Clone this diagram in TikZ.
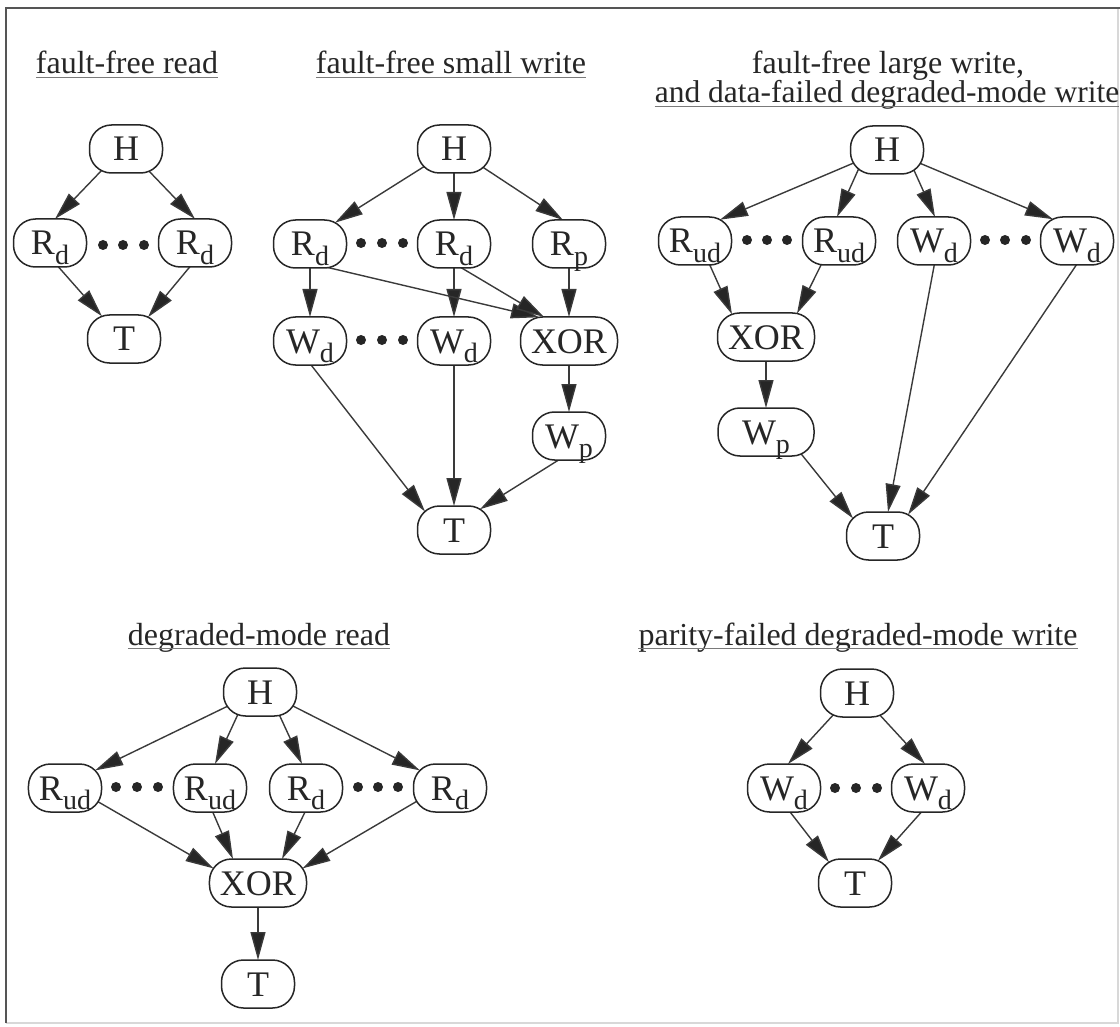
\documentclass[tikz,border=0pt]{standalone}
\usepackage{fontspec}
\setmainfont{Liberation Serif}
\usetikzlibrary{arrows.meta,calc}
\pgfdeclarelayer{edges}
\pgfsetlayers{edges,main}
\definecolor{ink}{HTML}{262626}
\definecolor{wire}{HTML}{3A3A3A}
\definecolor{rulegray}{HTML}{7A7A7A}
\definecolor{framedark}{HTML}{555555}
\definecolor{framelight}{HTML}{D8D8D8}
% lowered subscript used in the node labels
\newcommand\sbs[1]{\raisebox{-9.5pt}{\fontsize{28}{28}\selectfont #1}}

\begin{document}
\begin{tikzpicture}[x=1pt,y=-1pt,
  box/.style={draw=ink, line width=1.5pt, fill=white, rounded corners=22pt,
    minimum width=73pt, minimum height=48pt, inner xsep=10.5pt, inner ysep=2pt,
    text height=24pt, text depth=0pt, text=ink, font=\fontsize{36}{36}\selectfont},
  wide/.style={box, minimum width=96pt},
  ttl/.style={inner sep=0pt, font=\fontsize{32}{32}\selectfont, text=ink},
  uline/.style={draw=rulegray, line width=1.8pt},
  arr/.style={draw=wire, line width=1.4pt,
    -{Triangle[length=28pt,width=15pt,fill=ink]}},
  bead/.style={fill=ink}]

\useasboundingbox (0,0) rectangle (1120,1027);

% frame
\draw[framelight, line width=1.5pt] (6,1023) -- (1118,1023) -- (1118,8);
\draw[framedark, line width=1.8pt] (6,1023) -- (6,8) -- (1120,8);

% titles
\node[ttl, anchor=base] (t1) at (127,74) {fault-free read};
\node[ttl, anchor=base] (t2) at (451,74) {fault-free small write};
\node[ttl, anchor=base] (t3a) at (888,74) {fault-free large write,};
\node[ttl, anchor=base, font=\fontsize{31.5}{32}\selectfont] (t3) at (887,103)
  {and data-failed degraded-mode write};
\node[ttl, anchor=base] (t4) at (259,645) {degraded-mode read};
\node[ttl, anchor=base] (t5) at (858,645) {parity-failed degraded-mode write};
\foreach \t in {t1,t2,t3,t4,t5}
  \draw[uline] ([yshift=-3.5pt]\t.base west) -- ([yshift=-3.5pt]\t.base east);

% fault-free read
\node[box] (H1) at (126,149) {H};
\node[box] (A1) at (50,243) {R\sbs{d}};
\node[box] (B1) at (195,243) {R\sbs{d}};
\node[box] (T1) at (124,339) {T};
\foreach \x in {103,123,144} \fill[bead] (\x,245) circle[radius=5pt];

% fault-free small write
\node[box] (H2) at (454,149) {H};
\node[box] (R21) at (310,244) {R\sbs{d}};
\node[box] (R22) at (454,244) {R\sbs{d}};
\node[box] (Rp) at (569,244) {R\sbs{p}};
\node[box] (W21) at (310,341) {W\sbs{d}};
\node[box] (W22) at (454,341) {W\sbs{d}};
\node[box] (X2) at (569,341) {XOR};
\node[box] (Wp2) at (569,436) {W\sbs{p}};
\node[box] (T2) at (454,530) {T};
\foreach \x in {361,382,403} {
  \fill[bead] (\x,243) circle[radius=5pt];
  \fill[bead] (\x,340) circle[radius=5pt];
}

% fault-free large write, and data-failed degraded-mode write
\node[box] (H3) at (887,150) {H};
\node[box] (U31) at (695,241) {R\sbs{ud}};
\node[box] (U32) at (839,241) {R\sbs{ud}};
\node[box] (W31) at (934,241) {W\sbs{d}};
\node[box] (W32) at (1077,241) {W\sbs{d}};
\node[box] (X3) at (766,337) {XOR};
\node[wide] (Wp3) at (766,432) {W\sbs{p}};
\node[box] (T3) at (883,536) {T};
\foreach \x in {747,767,787} \fill[bead] (\x,240) circle[radius=5pt];
\foreach \x in {985,1005,1026} \fill[bead] (\x,240) circle[radius=5pt];

% degraded-mode read
\node[box] (H4) at (260,692) {H};
\node[box] (U41) at (65,788) {R\sbs{ud}};
\node[box] (U42) at (210,788) {R\sbs{ud}};
\node[box] (R41) at (306,788) {R\sbs{d}};
\node[box] (R42) at (450,788) {R\sbs{d}};
\node[box] (X4) at (258,883) {XOR};
\node[box] (T4) at (258,984) {T};
\foreach \x in {116,137,158} \fill[bead] (\x,787) circle[radius=5pt];
\foreach \x in {358,378,398} \fill[bead] (\x,787) circle[radius=5pt];

% parity-failed degraded-mode write
\node[box] (H5) at (857,693) {H};
\node[box] (W51) at (784,788) {W\sbs{d}};
\node[box] (W52) at (928,788) {W\sbs{d}};
\node[box] (T5) at (855,883) {T};
\foreach \x in {835,856,877} \fill[bead] (\x,788) circle[radius=5pt];

% connectors: they start inside the source box (covered by its white fill)
% and end exactly on the target outline
\begin{pgfonlayer}{edges}
% fault-free read
\draw[arr] ($(H1.center)+(-23,20)$) -- ($(A1.center)+(5,-24)$);
\draw[arr] ($(H1.center)+(21,20)$) -- ($(B1.center)+(0,-24)$);
\draw[arr] ($(A1.center)+(5,20)$) -- ($(T1.center)+(-22,-22.7)$);
\draw[arr] ($(B1.center)+(-2,20)$) -- ($(T1.center)+(24,-21.8)$);
% fault-free small write
\draw[arr] ($(H2.center)+(-29,17)$) -- ($(R21.center)+(25,-21.3)$);
\draw[arr] ($(H2.center)+(0,20)$) -- ($(R22.center)+(0,-24)$);
\draw[arr] ($(H2.center)+(27,17)$) -- ($(Rp.center)+(-6,-24)$);
\draw[arr] ($(R21.center)+(0,20)$) -- ($(W21.center)+(0,-24)$);
\draw[arr] ($(R22.center)+(0,20)$) -- ($(W22.center)+(0,-24)$);
\draw[arr] ($(R21.center)+(3,20)$) -- ($(X2.center)+(-30,-23.7)$);
\draw[arr] ($(R22.center)+(1,20)$) -- ($(X2.center)+(-25,-24)$);
\draw[arr] ($(Rp.center)+(0,20)$) -- ($(X2.center)+(0,-24)$);
\draw[arr] ($(X2.center)+(0,20)$) -- ($(Wp2.center)+(0,-24)$);
\draw[arr] ($(W21.center)+(-2,20)$) -- ($(T2.center)+(-29,-18.5)$);
\draw[arr] ($(W22.center)+(0,20)$) -- ($(T2.center)+(0,-24)$);
\draw[arr] ($(Wp2.center)+(-4,20)$) -- ($(T2.center)+(26,-20.8)$);
% fault-free large write
\draw[arr] ($(H3.center)+(-31,12)$) -- ($(U31.center)+(25,-21.3)$);
\draw[arr] ($(H3.center)+(-28,18)$) -- ($(U32.center)+(-2,-24)$);
\draw[arr] ($(H3.center)+(26,18)$) -- ($(W31.center)+(1,-24)$);
\draw[arr] ($(H3.center)+(30,12)$) -- ($(W32.center)+(-24,-21.8)$);
\draw[arr] ($(U31.center)+(13,20)$) -- ($(X3.center)+(-34,-22.7)$);
\draw[arr] ($(U32.center)+(-16,20)$) -- ($(X3.center)+(31,-23.5)$);
\draw[arr] ($(X3.center)+(0,20)$) -- ($(Wp3.center)+(0,-24)$);
\draw[arr] ($(Wp3.center)+(32,18)$) -- ($(T3.center)+(-30,-17.6)$);
\draw[arr] ($(W31.center)+(1,20)$) -- ($(T3.center)+(5,-24)$);
\draw[arr] ($(W32.center)+(2,20)$) -- ($(T3.center)+(25,-21.3)$);
% degraded-mode read
\draw[arr] ($(H4.center)+(-32,14)$) -- ($(U41.center)+(30.1,-17.6)$);
\draw[arr] ($(H4.center)+(-21,20)$) -- ($(U42.center)+(5,-24)$);
\draw[arr] ($(H4.center)+(18,20)$) -- ($(R41.center)+(-4,-24)$);
\draw[arr] ($(H4.center)+(31,13)$) -- ($(R42.center)+(-30.1,-17.6)$);
\draw[arr] ($(U41.center)+(30,12)$) -- ($(X4.center)+(-44.5,-14.6)$);
\draw[arr] ($(U42.center)+(1,20)$) -- ($(X4.center)+(-25,-24)$);
\draw[arr] ($(R41.center)+(1,20)$) -- ($(X4.center)+(24,-24)$);
\draw[arr] ($(R42.center)+(-31,12)$) -- ($(X4.center)+(44.5,-14.6)$);
\draw[arr] ($(X4.center)+(0,20)$) -- ($(T4.center)+(0,-24)$);
% parity-failed degraded-mode write
\draw[arr] ($(H5.center)+(-22,20)$) -- ($(W51.center)+(4,-24)$);
\draw[arr] ($(H5.center)+(21,20)$) -- ($(W52.center)+(-3,-24)$);
\draw[arr] ($(W51.center)+(3,20)$) -- ($(T5.center)+(-26,-20.8)$);
\draw[arr] ($(W52.center)+(-3,20)$) -- ($(T5.center)+(23,-22.3)$);
\end{pgfonlayer}
\end{tikzpicture}
\end{document}
